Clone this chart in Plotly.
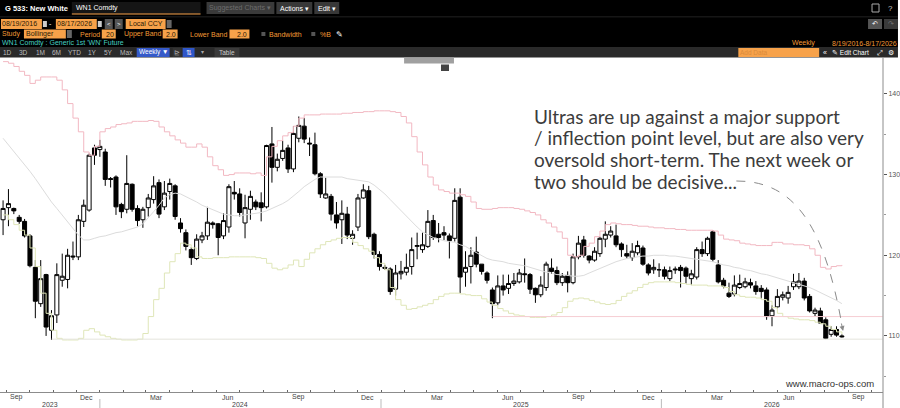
import pandas as pd
import plotly.graph_objects as go

# weekly bars, WN1 Comdty
first_week = "2023-08-28"
n_weeks = 157

opens = [124.4, 125.9, 125.8, 124.7, 124.2, 122.4, 118.5, 114.0, 117.6, 110.7,
         112.6, 116.9, 117.0, 119.9, 119.8, 124.2, 125.6, 133.3, 133.1, 132.8,
         129.5, 129.7, 126.3, 125.7, 128.8, 125.8, 124.4, 125.9, 126.9, 129.0,
         126.0, 127.9, 128.6, 124.0, 122.8, 120.7, 119.6, 121.9, 122.4, 124.0,
         123.9, 122.4, 123.5, 127.8, 127.6, 124.0, 125.7, 126.6, 126.5, 126.0,
         133.8, 130.9, 132.0, 133.3, 130.7, 134.5, 136.0, 133.9, 133.7, 130.1,
         127.1, 127.3, 125.0, 124.4, 125.1, 122.1, 123.5, 127.1, 128.0, 122.6,
         120.1, 118.5, 118.3, 115.8, 117.7, 117.9, 118.6, 121.1, 120.7, 121.1,
         124.3, 122.6, 122.8, 122.4, 122.1, 127.2, 117.9, 118.6, 120.4, 118.9,
         117.8, 115.7, 114.1, 116.2, 115.9, 116.5, 116.7, 117.7, 117.6, 115.9,
         115.1, 116.0, 118.4, 118.1, 116.6, 117.5, 116.6, 119.8, 121.9, 119.9,
         119.4, 120.2, 122.0, 122.5, 122.4, 121.4, 120.2, 119.7, 120.3, 120.9,
         118.8, 118.2, 118.2, 118.2, 117.1, 118.3, 118.5, 118.4, 117.1, 117.3,
         120.7, 120.2, 122.9, 118.8, 116.9, 115.3, 115.2, 116.0, 116.1, 116.6,
         116.2, 115.9, 115.7, 112.5, 113.6, 114.8, 114.7, 116.1, 116.1, 116.8,
         114.9, 112.8, 113.1, 112.0, 110.2, 110.8, 110.0]
highs = [126.8, 128.2, 125.9, 125.0, 124.5, 122.6, 119.4, 119.4, 117.7, 113.2,
         119.0, 120.2, 120.8, 121.7, 125.0, 126.9, 132.6, 133.7, 134.3, 133.2,
         129.7, 129.9, 126.5, 132.4, 128.9, 126.2, 126.0, 127.6, 129.8, 129.4,
         129.2, 129.5, 128.8, 124.6, 123.2, 121.0, 122.6, 122.9, 126.0, 124.2,
         124.0, 125.2, 128.8, 129.2, 128.3, 127.5, 128.0, 126.9, 127.8, 133.7,
         135.9, 132.6, 134.2, 133.7, 136.0, 137.2, 137.0, 134.6, 135.2, 130.3,
         129.6, 127.6, 126.6, 126.8, 126.0, 123.1, 127.6, 128.8, 128.6, 122.8,
         120.5, 118.8, 118.5, 118.8, 119.3, 120.2, 122.2, 122.8, 122.8, 125.6,
         125.0, 124.0, 123.6, 122.7, 128.3, 128.3, 120.5, 121.0, 122.3, 118.9,
         118.0, 116.0, 117.5, 117.6, 117.6, 117.8, 118.3, 119.6, 117.8, 116.0,
         117.4, 119.2, 119.6, 118.6, 117.8, 118.0, 120.2, 122.4, 122.4, 120.0,
         121.0, 122.3, 124.2, 123.6, 123.8, 121.6, 121.3, 121.5, 121.8, 121.2,
         119.0, 119.5, 119.0, 118.6, 118.6, 118.6, 118.8, 118.6, 118.2, 121.0,
         121.7, 122.3, 123.1, 119.4, 117.2, 116.6, 117.5, 117.6, 117.2, 117.1,
         116.8, 116.3, 116.0, 113.8, 115.8, 115.5, 116.2, 117.7, 117.8, 117.2,
         115.2, 113.5, 113.5, 112.3, 111.2, 111.2, 110.2]
lows = [122.5, 123.6, 125.1, 123.9, 122.2, 118.5, 112.2, 113.6, 110.0, 109.5,
        111.6, 116.1, 115.9, 119.4, 119.4, 123.5, 125.4, 131.2, 132.2, 128.6,
        128.4, 125.0, 124.6, 125.2, 125.4, 123.6, 123.4, 124.8, 126.4, 124.6,
        125.6, 126.9, 124.4, 122.8, 120.6, 118.8, 119.4, 121.5, 121.9, 123.3,
        120.0, 122.0, 122.8, 126.9, 124.8, 122.1, 124.4, 125.6, 124.2, 125.8,
        129.0, 130.4, 131.7, 130.2, 130.3, 134.0, 133.9, 132.3, 129.9, 127.1,
        127.0, 124.3, 123.3, 121.4, 122.0, 121.3, 123.0, 127.0, 122.0, 119.6,
        118.1, 118.2, 115.1, 115.0, 117.0, 117.5, 117.6, 119.5, 120.3, 120.9,
        121.9, 121.6, 121.9, 119.6, 121.7, 115.3, 116.1, 116.5, 118.5, 117.6,
        116.5, 112.2, 113.8, 115.0, 115.2, 116.2, 116.5, 116.6, 115.2, 114.1,
        114.8, 115.6, 117.7, 116.3, 116.2, 115.4, 116.4, 119.5, 119.7, 119.0,
        119.2, 119.8, 121.0, 122.2, 121.0, 119.8, 119.6, 119.3, 120.0, 118.7,
        117.5, 117.7, 117.3, 117.0, 116.8, 117.7, 116.0, 116.5, 116.3, 117.0,
        119.8, 119.9, 119.2, 116.5, 115.9, 114.7, 114.9, 115.8, 115.9, 115.9,
        115.1, 114.6, 112.0, 111.2, 113.4, 114.4, 114.0, 115.7, 115.8, 114.4,
        112.9, 112.4, 111.5, 109.6, 109.9, 109.9, 109.8]
closes = [125.8, 126.4, 125.5, 124.2, 122.4, 118.7, 114.3, 117.1, 111.1, 112.5,
          117.6, 117.4, 120.0, 119.8, 124.4, 126.2, 132.4, 132.4, 133.5, 129.4,
          129.4, 126.0, 125.4, 128.9, 125.7, 124.3, 125.7, 127.1, 128.6, 125.1,
          127.7, 128.9, 124.8, 123.3, 121.1, 119.7, 122.0, 122.4, 124.1, 123.8,
          122.2, 124.3, 128.5, 127.6, 125.3, 125.9, 127.3, 126.0, 125.9, 133.6,
          130.9, 131.9, 133.0, 130.7, 135.1, 136.1, 134.4, 133.8, 130.1, 127.6,
          127.6, 125.1, 124.0, 125.2, 122.5, 122.6, 127.1, 128.1, 122.3, 120.1,
          118.6, 118.4, 115.5, 117.8, 118.0, 118.5, 120.7, 121.2, 121.3, 124.2,
          122.2, 122.2, 122.5, 121.8, 126.8, 117.3, 118.5, 120.0, 118.9, 118.0,
          116.9, 114.0, 116.2, 115.7, 116.5, 116.8, 117.8, 117.6, 115.8, 115.1,
          116.3, 118.9, 118.0, 116.6, 117.4, 116.6, 119.8, 121.5, 120.0, 119.4,
          120.5, 122.1, 122.6, 123.0, 121.3, 120.7, 119.9, 120.5, 121.2, 118.9,
          117.8, 118.5, 118.2, 117.4, 118.1, 118.2, 118.1, 117.4, 117.7, 120.7,
          120.2, 122.1, 119.5, 116.7, 116.2, 114.9, 116.3, 116.5, 116.7, 116.3,
          115.5, 115.5, 112.4, 113.2, 114.9, 115.1, 115.4, 116.7, 116.8, 114.7,
          113.1, 113.2, 111.6, 109.7, 110.8, 110.1, 109.9]

# Bollinger (20, 2.0) as drawn
upper_band = [144.0, 143.8, 143.4, 142.8, 142.3, 141.3, 141.7, 142.1, 142.1, 142.1,
              141.7, 140.5, 138.8, 137.0, 135.3, 132.8, 132.4, 133.5, 135.3, 135.7,
              135.9, 136.2, 136.3, 136.4, 136.6, 136.6, 136.6, 136.7, 136.6, 135.9,
              135.3, 134.8, 134.3, 133.9, 133.4, 133.4, 133.8, 133.4, 132.2, 131.1,
              130.6, 129.9, 130.0, 130.2, 130.2, 130.2, 130.1, 130.2, 129.9, 132.2,
              133.5, 134.2, 134.8, 135.2, 136.0, 137.0, 137.4, 137.4, 137.4, 137.5,
              137.5, 137.5, 137.5, 137.6, 137.6, 137.7, 137.7, 137.8, 137.8, 137.9,
              137.9, 137.9, 137.8, 137.7, 137.2, 136.4, 134.7, 132.8, 131.2, 129.7,
              128.7, 128.1, 127.9, 127.7, 127.7, 127.5, 127.3, 126.6, 125.8, 125.7,
              125.7, 125.8, 125.9, 125.9, 125.9, 125.8, 125.7, 125.5, 125.3, 125.0,
              124.4, 124.0, 123.5, 122.9, 122.1, 120.0, 119.8, 120.0, 121.1, 121.5,
              122.3, 123.0, 123.8, 124.0, 123.9, 123.8, 123.8, 123.7, 123.6, 123.6,
              123.5, 123.4, 123.4, 123.3, 123.3, 123.2, 123.2, 123.1, 123.1, 123.1,
              123.1, 123.1, 123.0, 122.5, 122.0, 121.9, 121.8, 121.5, 121.4, 121.3,
              121.2, 121.2, 121.2, 121.6, 121.6, 121.4, 121.4, 121.3, 121.3, 121.2,
              120.8, 120.0, 118.5, 118.3, 118.6, 118.7, 118.8]
middle_band = [134.5, 133.7, 132.8, 132.0, 131.2, 130.4, 129.5, 128.5, 127.5, 126.6,
               125.8, 125.0, 124.2, 123.3, 122.5, 121.9, 121.9, 122.1, 122.3, 122.4,
               122.6, 122.8, 122.9, 123.1, 123.3, 123.5, 123.9, 124.6, 125.4, 126.2,
               127.1, 127.5, 127.7, 127.6, 127.3, 126.9, 126.6, 126.2, 125.9, 125.6,
               125.3, 125.1, 125.0, 124.9, 124.9, 125.0, 125.1, 125.2, 125.3, 125.5,
               125.8, 126.0, 126.4, 126.8, 127.3, 127.9, 128.5, 129.0, 129.4, 129.7,
               129.7, 129.7, 129.7, 129.7, 129.5, 129.4, 129.3, 129.2, 129.1, 128.7,
               128.2, 127.6, 126.9, 126.2, 125.5, 124.9, 124.2, 123.5, 122.9, 122.5,
               122.2, 122.0, 121.8, 121.7, 121.6, 121.3, 121.1, 120.7, 120.3, 119.9,
               119.6, 119.4, 119.3, 119.2, 119.0, 118.9, 118.8, 118.7, 118.5, 118.3,
               118.1, 117.9, 117.8, 117.6, 117.6, 117.5, 117.4, 117.4, 117.5, 117.8,
               118.1, 118.4, 118.7, 119.0, 119.2, 119.4, 119.6, 119.7, 119.8, 119.9,
               119.9, 120.0, 120.0, 120.0, 119.9, 119.9, 119.8, 119.7, 119.6, 119.5,
               119.4, 119.3, 119.2, 119.0, 118.8, 118.7, 118.5, 118.4, 118.2, 118.1,
               117.9, 117.7, 117.6, 117.4, 117.2, 117.0, 116.8, 116.6, 116.4, 116.2,
               116.0, 115.7, 115.4, 115.1, 114.8, 114.4, 114.0]
lower_band = [125.0, 124.4, 123.8, 123.1, 122.5, 120.9, 118.6, 115.3, 112.8, 110.7,
              109.7, 109.5, 109.5, 109.5, 109.7, 110.7, 110.9, 110.5, 110.1, 109.9,
              109.7, 109.6, 109.5, 109.5, 109.5, 109.6, 110.3, 112.4, 114.5, 115.9,
              117.8, 119.2, 120.2, 121.5, 121.3, 120.9, 119.8, 119.6, 119.6, 119.7,
              119.7, 119.7, 119.8, 119.8, 119.8, 119.8, 119.8, 119.7, 119.6, 119.0,
              118.4, 118.2, 118.4, 118.8, 119.4, 118.6, 119.5, 120.3, 120.8, 121.3,
              121.7, 121.9, 122.1, 122.2, 122.2, 121.6, 121.2, 120.8, 120.5, 119.7,
              119.0, 118.2, 116.0, 114.5, 113.8, 113.3, 113.4, 113.6, 113.8, 114.0,
              114.5, 114.9, 115.2, 115.3, 115.3, 115.2, 115.1, 115.0, 115.0, 114.6,
              114.2, 113.8, 113.4, 113.1, 112.8, 112.6, 112.5, 112.4, 112.3, 112.3,
              112.3, 112.4, 112.6, 112.9, 113.5, 114.3, 114.6, 114.7, 114.6, 114.4,
              114.2, 114.0, 113.9, 114.0, 114.4, 114.9, 115.3, 115.6, 116.0, 116.4,
              116.6, 116.7, 116.7, 116.7, 116.7, 116.6, 116.5, 116.4, 116.3, 116.3,
              116.3, 116.2, 116.2, 116.2, 116.0, 115.5, 115.1, 114.9, 114.8, 114.8,
              114.7, 114.5, 114.3, 113.5, 112.8, 112.4, 112.2, 112.1, 112.0, 112.0,
              111.9, 111.7, 111.5, 111.2, 110.8, 110.5, 110.2]

support_level = 112.4
low_level = 109.6

month_labels = ["Sep", "Dec", "Mar", "Jun", "Sep", "Dec", "Mar", "Jun", "Sep", "Dec", "Mar", "Jun", "Sep"]
month_dates = ["2023-09-15", "2023-12-15", "2024-03-15", "2024-06-15", "2024-09-15", "2024-12-15",
               "2025-03-15", "2025-06-15", "2025-09-15", "2025-12-15", "2026-03-15", "2026-06-15", "2026-09-15"]
year_labels = ["2023", "2024", "2025", "2026"]
year_dates = ["2023-10-28", "2024-07-02", "2025-07-02", "2026-05-25"]
year_breaks = ["2024-01-01", "2025-01-01", "2026-01-01"]

note_lines = ["Ultras are up against a major support",
              "/ inflection point level, but are also very",
              "oversold short-term. The next week or",
              "two should be decisive..."]

dates = pd.date_range(first_week, periods=n_weeks, freq="7D")
month_ticks = pd.date_range("2023-09-01", "2026-10-01", freq="MS")

# pixel helpers (plot area is x 0..885, y 58..392)
def px(x):
    return x / 885

def py(y):
    return (392 - y) / 334

ORANGE = "#f7a24a"
ORANGE_TXT = "#f39a35"
DARK_TXT = "#2a1a05"
FONT = "Liberation Sans"

fig = go.Figure()
fig.add_trace(go.Candlestick(x=dates, open=opens, high=highs, low=lows, close=closes,
                             increasing=dict(line=dict(color="black", width=1), fillcolor="white"),
                             decreasing=dict(line=dict(color="black", width=1), fillcolor="black"),
                             whiskerwidth=0, showlegend=False))
fig.add_trace(go.Scatter(x=dates, y=middle_band, mode="lines", line=dict(color="#dcdcdc", width=1), showlegend=False))
fig.add_trace(go.Scatter(x=dates, y=upper_band, mode="lines", line=dict(color="#f2b8c2", width=1, shape="hv"), showlegend=False))
fig.add_trace(go.Scatter(x=dates, y=lower_band, mode="lines", line=dict(color="#dfe6b8", width=1, shape="hv"), showlegend=False))

shapes = []
ann = []

# horizontal levels
shapes.append(dict(type="line", xref="x", yref="y", x0=dates[91], x1="2026-10-16", y0=support_level, y1=support_level,
                   line=dict(color="#f6cdd3", width=1)))
shapes.append(dict(type="line", xref="x", yref="y", x0=dates[9], x1="2026-10-16", y0=low_level, y1=low_level,
                   line=dict(color="#e4e4dc", width=1)))

# ---- header ----
def rect(x0, y0, x1, y1, color, line=None):
    shapes.append(dict(type="rect", xref="paper", yref="paper", x0=px(x0), x1=px(x1), y0=py(y1), y1=py(y0),
                       fillcolor=color, line=dict(width=0) if line is None else dict(color=line, width=1), layer="above"))

def text(x, y, s, color="white", size=7, anchor="left", bold=False):
    if bold:
        s = "<b>" + s + "</b>"
    ann.append(dict(x=px(x), y=py(y), xref="paper", yref="paper", text=s, showarrow=False,
                    xanchor=anchor, yanchor="middle", borderpad=0,
                    font=dict(family=FONT, size=size, color=color)))

rect(0, 0, 900, 47, "black")
rect(0, 47, 900, 57.5, "#2a2a2a")
rect(0, 16.5, 900, 17.3, "#2c2c2c")

text(4, 8, "G 533: New White", size=7.5, bold=True)
rect(72, 2, 201, 14, "#151515")
rect(72, 13.5, 201, 14.5, ORANGE)
text(75, 8, "WN1 Comdty")
rect(207, 2, 275, 14, "#3a3a3a")
text(241, 8, "Suggested Charts ▾", color="#6c6c6c", anchor="center")
rect(277, 2, 313, 14, "#383838")
text(295, 8, "Actions ▾", anchor="center")
rect(315, 2, 340, 14, "#383838")
text(327.5, 8, "Edit ▾", anchor="center")
rect(874, 4, 881, 12, "black", line="#aaaaaa")
text(893, 8, "?", color="#cccccc", anchor="center", size=8)

rect(1, 19, 42, 29, ORANGE)
text(1, 24, "08/19/2016", color=DARK_TXT)
rect(43, 21, 47, 27, "#cccccc")
text(51, 24, "-", anchor="center")
rect(56, 19, 97, 29, ORANGE)
text(56, 24, "08/17/2026", color=DARK_TXT)
rect(98, 21, 102, 27, "#cccccc")
rect(105, 19, 113, 29, "#555555")
text(109, 24, "<", anchor="center", size=6)
rect(115, 19, 123, 29, "#555555")
text(119, 24, ">", anchor="center", size=6)
rect(126, 19, 166, 29, ORANGE)
text(128, 24, "Local CCY", color=DARK_TXT)
rect(167, 20, 172, 28, "#666666")
rect(870, 19, 884, 29, "#555555")
text(877, 24, "↶", anchor="center", size=7)
rect(886, 19, 900, 29, "#3a3a3a")
text(893, 24, "↷", color="#777777", anchor="center", size=7)

text(1, 34, "Study", color=ORANGE_TXT)
rect(24, 29.5, 66, 38.5, ORANGE)
text(25, 34, "Bollinger", color=DARK_TXT)
rect(67, 30, 72, 38, "#666666")
text(79, 34, "Period", color=ORANGE_TXT)
rect(102, 29.5, 116, 38.5, ORANGE)
text(115, 34, "20", color=DARK_TXT, anchor="right")
text(123, 34, "Upper Band", color=ORANGE_TXT)
rect(163, 29.5, 178, 38.5, ORANGE)
text(177, 34, "2.0", color=DARK_TXT, anchor="right")
text(189, 34, "Lower Band", color=ORANGE_TXT)
rect(230, 29.5, 250, 38.5, ORANGE)
text(249, 34, "2.0", color=DARK_TXT, anchor="right")
rect(262, 32, 266, 36, "#555555")
text(269, 34, "Bandwidth", color=ORANGE_TXT)
rect(312, 32, 316, 36, "#555555")
text(320, 34, "%B", color=ORANGE_TXT)
text(336, 34, "✎", size=8)

text(1, 43, "WN1 Comdty : Generic 1st 'WN' Future", color="#45cfc0")
text(818, 43, "Weekly", color=ORANGE_TXT, anchor="right")
text(900, 43, "8/19/2016-8/17/2026", color=ORANGE_TXT, anchor="right")

for lbl, xx in zip(["1D", "3D", "1M", "6M", "YTD", "1Y", "5Y", "Max"], [8, 24, 41, 57, 75, 93, 109, 127]):
    text(xx, 52.3, lbl, color="#bdbdbd", size=6.5, anchor="center")
rect(137, 48, 170, 57, "#3559c8")
text(153.5, 52.3, "Weekly ▼", size=6.5, anchor="center")
rect(173, 48, 182, 57, "#333333")
text(177.5, 52.3, "⊵", color="#aaaaaa", size=6.5, anchor="center")
rect(183, 48, 195, 57, "#2f56c8")
text(189, 52.3, "⇅", size=6.5, anchor="center")
text(203, 52.3, "▾", color="#aaaaaa", size=6, anchor="center")
rect(215, 48, 240, 57, "#3a3a3a")
text(227.5, 52.3, "Table", color="#cccccc", size=6.5, anchor="center")
rect(740, 48, 821, 57, ORANGE)
text(741, 52.3, "Add Data", color="#d98a3a", size=6.5)
text(827, 52.3, "«", size=7, anchor="center")
text(833, 52.3, "✎ Edit Chart", size=6.5)
text(882, 52.3, "⤢", size=7, anchor="center")
text(893, 52.3, "⚙", size=7, anchor="center")

# small chart toolbar
rect(405, 57.5, 455, 63.5, "#a0a0a0")
rect(442, 64.5, 450, 71, "#444444")

# right axis line running to the bottom edge
shapes.append(dict(type="line", xref="paper", yref="paper", x0=px(885), x1=px(885), y0=py(408), y1=py(57.5),
                   line=dict(color="#8c8c8c", width=1)))

# ---- x labels ----
for lbl, d in zip(month_labels, month_dates):
    ann.append(dict(x=d, y=py(397), xref="x", yref="paper", text=lbl, showarrow=False, xanchor="center",
                    yanchor="middle", font=dict(family=FONT, size=7, color="#444444")))
for lbl, d in zip(year_labels, year_dates):
    ann.append(dict(x=d, y=py(404.5), xref="x", yref="paper", text=lbl, showarrow=False, xanchor="center",
                    yanchor="middle", font=dict(family=FONT, size=7, color="#444444")))
for d in year_breaks:
    shapes.append(dict(type="line", xref="x", yref="paper", x0=d, x1=d, y0=py(408), y1=py(399),
                       line=dict(color="#bbbbbb", width=1)))

# ---- commentary ----
for k, line in enumerate(note_lines):
    ann.append(dict(x=px(533), y=py(116 + 21.7 * k), xref="paper", yref="paper", text=line, showarrow=False,
                    xanchor="left", yanchor="middle", font=dict(family="Lato", size=19, color="#3c3c3c")))
shapes.append(dict(type="path", xref="paper", yref="paper",
                   path="M %f,%f C %f,%f %f,%f %f,%f" % (px(738), py(181), px(792), py(181), px(825), py(218), px(844), py(326)),
                   line=dict(color="#8a8a8a", width=1, dash="dash")))
ann.append(dict(x=px(845), y=py(331), xref="paper", yref="paper", text="", showarrow=True, ax=-2, ay=-9,
                arrowhead=2, arrowsize=1, arrowwidth=1, arrowcolor="#8a8a8a"))

ann.append(dict(x=px(878), y=py(383), xref="paper", yref="paper", text="www.macro-ops.com", showarrow=False,
                xanchor="right", yanchor="middle", font=dict(family="Liberation Sans", size=9.5, color="#333333")))

fig.update_layout(
    width=900, height=408,
    margin=dict(l=0, r=15, t=58, b=16),
    paper_bgcolor="white", plot_bgcolor="white",
    boxgap=0.15, boxgroupgap=0.12,
    shapes=shapes, annotations=ann,
    showlegend=False,
    xaxis=dict(type="date", range=["2023-08-24", "2026-10-16 12:00"], rangeslider=dict(visible=False),
               showgrid=False, zeroline=False, showline=True, linecolor="#8c8c8c", linewidth=1,
               tickvals=list(month_ticks), ticks="inside", ticklen=2, tickcolor="#666666", showticklabels=False),
    yaxis=dict(side="right", range=[103.05, 144.45], showgrid=False, zeroline=False, showline=False,
               tickvals=[110, 120, 130, 140], ticks="outside", ticklen=3, tickcolor="#555555",
               tickfont=dict(family=FONT, size=7, color="#555555"),
               minor=dict(tickvals=[105, 115, 125, 135], ticks="outside", ticklen=2, tickcolor="#999999")),
)

fig.write_html("out.html", config={"displayModeBar": False},
               post_script="document.body.style.margin='0px';")
